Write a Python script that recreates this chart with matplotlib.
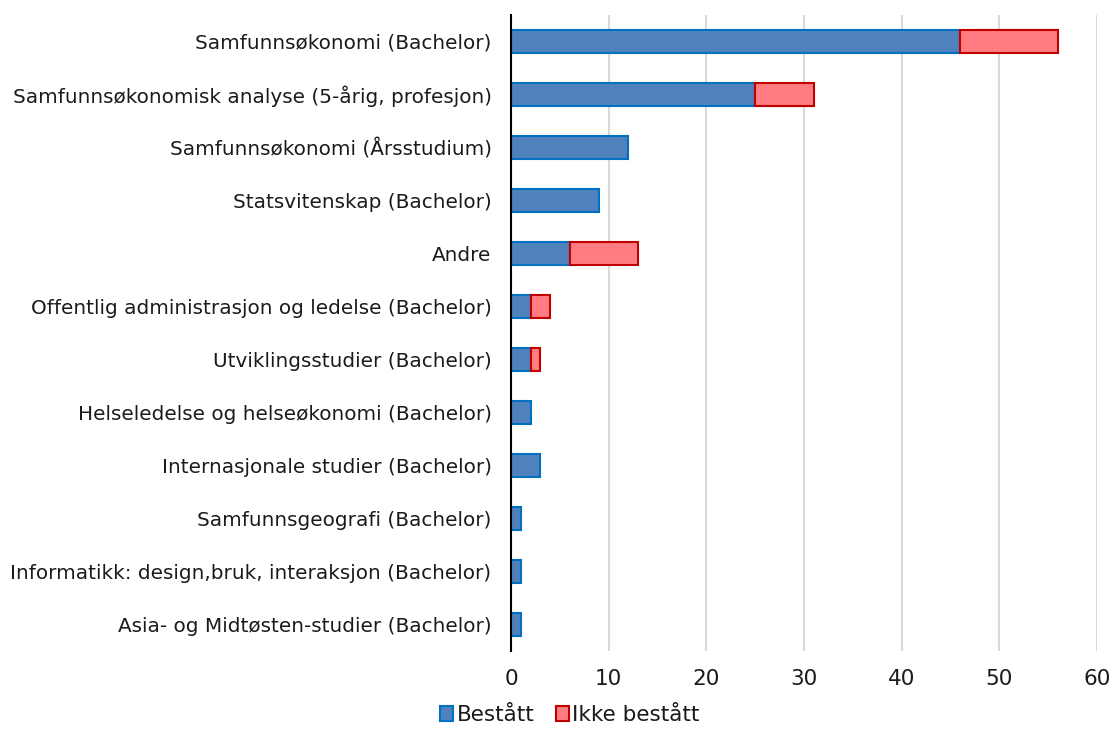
import matplotlib
matplotlib.use("Agg")
import matplotlib.pyplot as plt
import numpy as np

# data (top to bottom)
categories = [
    "Samfunnsøkonomi (Bachelor)",
    "Samfunnsøkonomisk analyse (5-årig, profesjon)",
    "Samfunnsøkonomi (Årsstudium)",
    "Statsvitenskap (Bachelor)",
    "Andre",
    "Offentlig administrasjon og ledelse (Bachelor)",
    "Utviklingsstudier (Bachelor)",
    "Helseledelse og helseøkonomi (Bachelor)",
    "Internasjonale studier (Bachelor)",
    "Samfunnsgeografi (Bachelor)",
    "Informatikk: design,bruk, interaksjon (Bachelor)",
    "Asia- og Midtøsten-studier (Bachelor)",
]
bestatt = [46, 25, 12, 9, 6, 2, 2, 2, 3, 1, 1, 1]
ikke_bestatt = [10, 6, 0, 0, 7, 2, 1, 0, 0, 0, 0, 0]

plt.rcParams["font.family"] = ["DejaVu Sans"]

fig = plt.figure(figsize=(11.15, 7.45), dpi=100)
ax = fig.add_axes([0.4583, 0.1262, 0.5256, 0.8537])

y = np.arange(len(categories))
b = np.array(bestatt, dtype=float)
r = np.array(ikke_bestatt, dtype=float)
h = 0.42

# only draw non-zero segments so no stray edge lines appear
mb = b > 0
mr = r > 0
ax.barh(y[mb], b[mb], height=h, color="#4F81BD", edgecolor="#0070C0",
        linewidth=1.5, label="Bestått", zorder=3)
ax.barh(y[mr], r[mr], left=b[mr], height=h, color="#FF7C80",
        edgecolor="#C00000", linewidth=1.5, label="Ikke bestått", zorder=3)

ax.set_ylim(len(categories) - 0.5, -0.5)
ax.set_xlim(0, 60)
ax.set_xticks(range(0, 61, 10))
ax.set_yticks(y)
ax.set_yticklabels(categories, fontsize=14.4, color="#1a1a1a")
ax.tick_params(axis="y", length=0, pad=14)
ax.tick_params(axis="x", length=0, pad=13, labelsize=15.5, labelcolor="#1a1a1a")

ax.grid(axis="x", color="#D9D9D9", linewidth=1.5, zorder=0)
for s in ["top", "right", "bottom"]:
    ax.spines[s].set_visible(False)
ax.spines["left"].set_color("black")
ax.spines["left"].set_linewidth(1.5)
ax.spines["left"].set_zorder(4)

fig.legend(loc="center", bbox_to_anchor=(0.511, 0.04), ncol=2, frameon=False,
           fontsize=15.5, handlelength=0.6, handleheight=0.7, handletextpad=0.15,
           columnspacing=1.0, labelcolor="#1a1a1a")

fig.savefig("out.png", dpi=100)
